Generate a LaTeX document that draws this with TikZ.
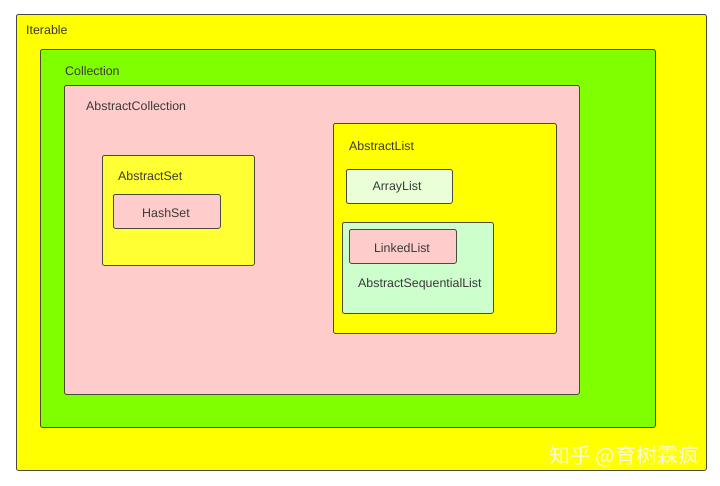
\documentclass[tikz,border=0pt]{standalone}
\usepackage{fontspec}
\setmainfont{Liberation Sans}
\newfontfamily\cjk{Noto Sans CJK SC}
\definecolor{cyel}{HTML}{FFFF00}
\definecolor{cgreen}{HTML}{80FF00}
\definecolor{cpink}{HTML}{FFCCCC}
\definecolor{csetyel}{HTML}{FFFF33}
\definecolor{carr}{HTML}{EAFFD8}
\definecolor{cseq}{HTML}{CCFFCC}
\definecolor{cline}{HTML}{4A4A3A}
\definecolor{ctext}{HTML}{3A3A3A}
\definecolor{cwm}{HTML}{FAFAE0}
\tikzset{
  box/.style={draw=cline, line width=0.8pt, rounded corners=2pt, anchor=north west, inner sep=0pt},
  lbl/.style={anchor=west, inner sep=0pt, text=ctext, font=\fontsize{12.4}{14}\selectfont},
  clbl/.style={anchor=center, inner sep=0pt, text=ctext, font=\fontsize{12.4}{14}\selectfont},
}
\begin{document}
\begin{tikzpicture}[x=1pt,y=-1pt]
\useasboundingbox[fill=white] (0,0) rectangle (720,485);
\node[box, fill=cyel, minimum width=690pt, minimum height=456pt] (iter) at (16,14) {};
\node[lbl] (iterl) at (26,30) {Iterable};
\node[box, fill=cgreen, minimum width=615pt, minimum height=378pt] (coll) at (40,49) {};
\node[lbl] (colll) at (65,71) {Collection};
\node[box, fill=cpink, minimum width=515pt, minimum height=309pt] (acoll) at (64,85) {};
\node[lbl] (acolll) at (86,106) {AbstractCollection};
\node[box, fill=csetyel, minimum width=152pt, minimum height=110pt] (aset) at (102,155) {};
\node[lbl] (asetl) at (118,176) {AbstractSet};
\node[box, fill=cpink, minimum width=107pt, minimum height=34pt] (hset) at (113,194) {};
\node[clbl] (hsetl) at (166,213) {HashSet};
\node[box, fill=cyel, minimum width=223pt, minimum height=210pt] (alist) at (333,123) {};
\node[lbl] (alistl) at (349,146) {AbstractList};
\node[box, fill=carr, minimum width=106pt, minimum height=34pt] (arr) at (346,169) {};
\node[clbl] (arrl) at (397,187) {ArrayList};
\node[box, fill=cseq, minimum width=151pt, minimum height=91pt] (aseq) at (342,222) {};
\node[lbl] (aseql) at (358,284) {AbstractSequentialList};
\node[box, fill=cpink, minimum width=107pt, minimum height=34pt] (llist) at (349,229) {};
\node[clbl] (llistl) at (402,248) {LinkedList};
\node[anchor=east, inner sep=0pt, text=cwm, font=\cjk\fontsize{21}{24}\selectfont] (wm) at (700,456) {知乎 @育树霖疯};
\end{tikzpicture}
\end{document}
